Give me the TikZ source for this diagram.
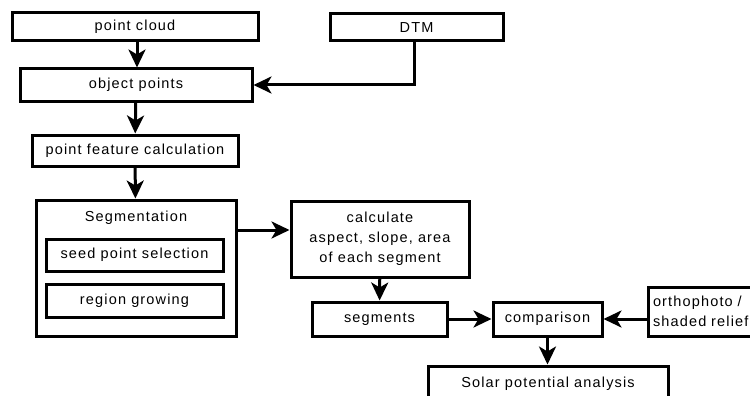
\documentclass[tikz,border=0pt]{standalone}
\usepackage{fontspec}
\setmainfont{Liberation Sans}[LetterSpace=8]
\usetikzlibrary{arrows.meta}
\begin{document}
\begin{tikzpicture}[x=1pt,y=-1pt,
  txt/.style={font=\fontsize{14.5}{20}\selectfont},
  box/.style={draw=black, line width=3pt, inner sep=0pt, txt, align=center},
  conn/.style={line width=3pt, -{Stealth[length=18pt,width=17pt,inset=5pt]}}]
\useasboundingbox (0,0) rectangle (750,396);
\clip (0,0) rectangle (750,396);
\fill[white] (0,0) rectangle (750,396);
\node[box, minimum width=246pt, minimum height=28pt] (pc) at (135,27) {point cloud};
\node[box, minimum width=173pt, minimum height=27pt] (dtm) at (416.5,27.5) {DTM};
\node[box, minimum width=232pt, minimum height=32pt] (obj) at (136,85) {object points};
\node[box, minimum width=206pt, minimum height=31pt] (pfc) at (135,150.5) {point feature calculation};
\node[box, minimum width=200pt, minimum height=136pt] (seg) at (136,268) {};
\node[txt] (segt) at (136,218) {Segmentation};
\node[box, minimum width=177pt, minimum height=32pt] (seed) at (134.5,255) {seed point selection};
\node[box, minimum width=177pt, minimum height=33pt] (reg) at (134.5,300.5) {region growing};
\node[box, minimum width=178pt, minimum height=76pt] (calc) at (380,239) {calculate\\aspect, slope, area\\of each segment};
\node[box, minimum width=135pt, minimum height=34pt] (segs) at (379.5,319) {segments};
\node[box, minimum width=109pt, minimum height=34pt] (comp) at (547.5,319) {comparison};
\node[box, minimum width=140pt, minimum height=49pt, align=left, text width=130pt, inner xsep=5pt] (ortho) at (718,311.5) {orthophoto /\\shaded relief};
\node[box, minimum width=240pt, minimum height=60pt] (solar) at (548,396) {};
\node[txt] (solt) at (548,384) {Solar potential analysis};
\draw[conn] (pc.south -| 137,0) -- (obj.north -| 137,0);
\draw[conn] (dtm.south -| 414,0) -- (414,85) -- (obj.east);
\draw[conn] (obj) -- (pfc);
\draw[conn] (pfc) -- (seg);
\draw[conn] (seg.east |- 0,230) -- (calc.west |- 0,230);
\draw[conn] (calc) -- (segs);
\draw[conn] (segs) -- (comp);
\draw[conn] (ortho.west |- comp.east) -- (comp.east);
\draw[conn] (comp) -- (solar.north -| comp);
\end{tikzpicture}
\end{document}
